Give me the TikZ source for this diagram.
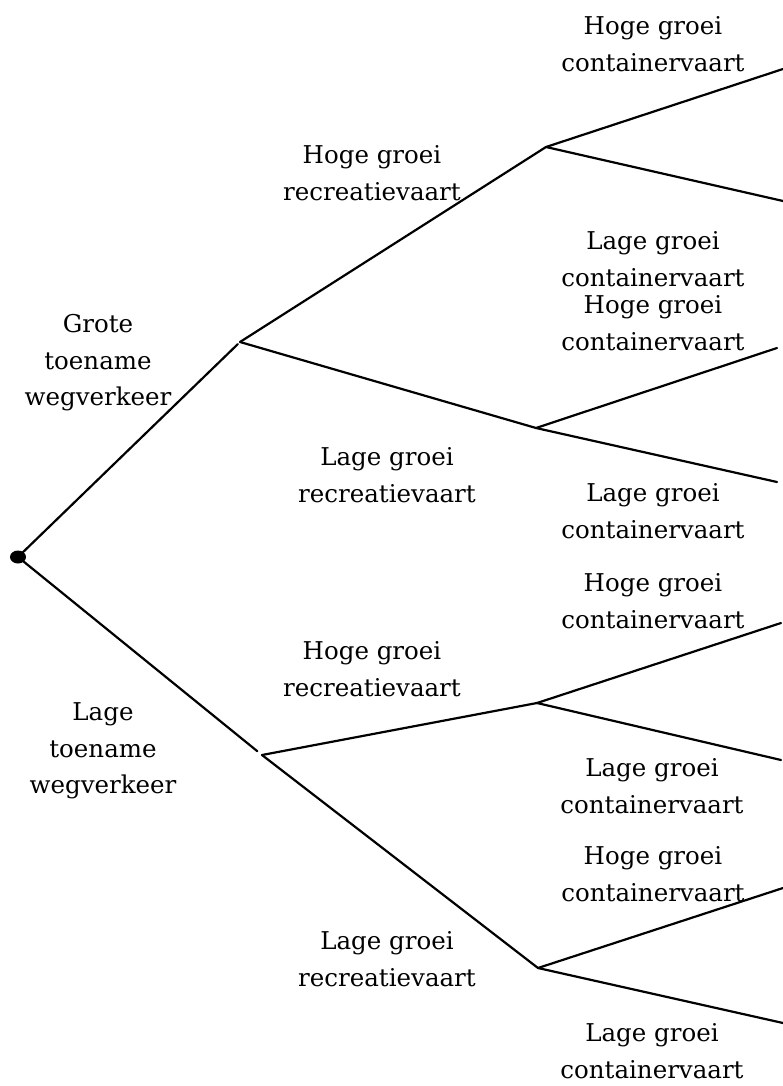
\documentclass[tikz,border=0pt]{standalone}
\usepackage{fontspec}
\setmainfont{DejaVu Serif}
\begin{document}
\begin{tikzpicture}[x=1pt,y=-1pt,
  branch/.style={line width=2.2pt, line cap=round},
  lbl/.style={align=center, inner sep=0pt, font=\fontsize{24.5}{36.5}\selectfont}]
\useasboundingbox (0,0) rectangle (783,1086);
% decision points
\coordinate (r) at (18,557);
\coordinate (g) at (240,342);
\coordinate (l) at (262,755);
\coordinate (gh) at (546,147);
\coordinate (gl) at (536,428);
\coordinate (lh) at (537,703);
\coordinate (ll) at (538,968);
% leaf ends
\coordinate (e1) at (783,69);
\coordinate (e2) at (783,201);
\coordinate (e3) at (777,348);
\coordinate (e4) at (777,482);
\coordinate (e5) at (781,623);
\coordinate (e6) at (781,760);
\coordinate (e7) at (783,888);
\coordinate (e8) at (783,1023);
% branches
\draw[branch, shorten >=3pt] (r) -- (g);
\draw[branch, shorten >=6pt] (r) -- (l);
\draw[branch] (g) -- (gh);
\draw[branch] (g) -- (gl);
\draw[branch] (l) -- (lh);
\draw[branch] (l) -- (ll);
\draw[branch] (gh) -- (e1);
\draw[branch] (gh) -- (e2);
\draw[branch] (gl) -- (e3);
\draw[branch] (gl) -- (e4);
\draw[branch] (lh) -- (e5);
\draw[branch] (lh) -- (e6);
\draw[branch] (ll) -- (e7);
\draw[branch] (ll) -- (e8);
\fill (r) ellipse [x radius=8, y radius=6.5];
% labels
\node[lbl] (t1) at (98,363) {Grote\\toename\\wegverkeer};
\node[lbl] (t2) at (103,751) {Lage\\toename\\wegverkeer};
\node[lbl] (t3) at (372,173) {Hoge groei\\recreatievaart};
\node[lbl] (t4) at (387,475) {Lage groei\\recreatievaart};
\node[lbl] (t5) at (372,669) {Hoge groei\\recreatievaart};
\node[lbl] (t6) at (387,959) {Lage groei\\recreatievaart};
\node[lbl] (c1) at (653,44) {Hoge groei\\containervaart};
\node[lbl] (c2) at (653,259) {Lage groei\\containervaart};
\node[lbl] (c3) at (653,323) {Hoge groei\\containervaart};
\node[lbl] (c4) at (653,511) {Lage groei\\containervaart};
\node[lbl] (c5) at (653,601) {Hoge groei\\containervaart};
\node[lbl] (c6) at (652,786) {Lage groei\\containervaart};
\node[lbl] (c7) at (653,874) {Hoge groei\\containervaart};
\node[lbl] (c8) at (652,1051) {Lage groei\\containervaart};
\end{tikzpicture}
\end{document}
